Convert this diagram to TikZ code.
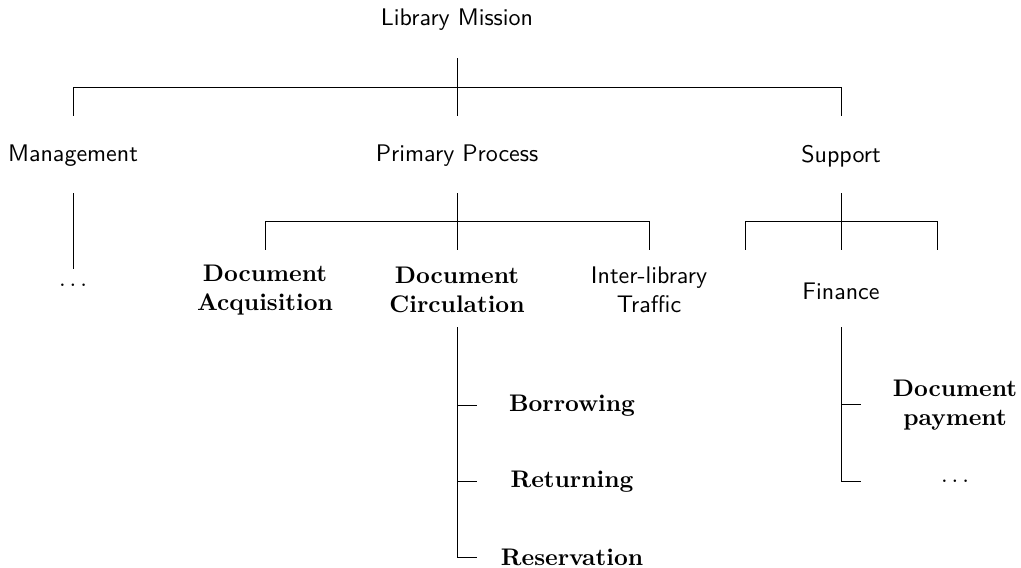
\documentclass[tikz,border=0pt]{standalone}
\begin{document}
\begin{tikzpicture}[x=0.4167pt,y=-0.4167pt,
  every node/.style={font=\sffamily, inner sep=0pt, align=center},
  bold/.style={font=\rmfamily\bfseries},
  link/.style={line width=0.4pt}]
\useasboundingbox (0,0) rectangle (1021,567);

% labels
\node (lm)  at (457,20)  {Library Mission};
\node (mg)  at (73,156)  {Management};
\node (pp)  at (457,156) {Primary Process};
\node (sp)  at (841,156) {Support};
\node (mgd) at (73,285)  {$\ldots$};
\node[bold] (da) at (265,290) {Document\\Acquisition};
\node[bold] (dc) at (457,290) {Document\\Circulation};
\node (it)  at (649,290) {Inter-library\\Traffic};
\node (fi)  at (841,291) {Finance};
\node[bold] (bo) at (572,406) {Borrowing};
\node[bold] (re) at (572,482) {Returning};
\node[bold] (rs) at (572,557) {Reservation};
\node[bold] (dp) at (955,405) {Document\\payment};
\node (fid) at (955,481) {$\ldots$};

% top level fork
\coordinate (lmA) at (457,58);
\coordinate (lmB) at (457,116);
\coordinate (lmL) at (73,87);
\coordinate (lmR) at (841,87);
\draw[link] (lmA) -- (lmB);
\draw[link] (mg |- lmL) -- (lmL) -- (lmR) -- (sp |- lmR);
\draw[link] (lmL) -- (mg |- lmB);
\draw[link] (lmR) -- (sp |- lmB);

% management
\coordinate (mgA) at (73,193);
\coordinate (mgB) at (73,269);
\draw[link] (mgA) -- (mgB);

% primary process fork
\coordinate (ppA) at (457,193);
\coordinate (ppB) at (457,250);
\coordinate (ppL) at (265,221);
\coordinate (ppR) at (649,221);
\draw[link] (ppA) -- (ppB);
\draw[link] (ppL) -- (ppR);
\draw[link] (ppL) -- (da |- ppB);
\draw[link] (ppR) -- (it |- ppB);

% support fork
\coordinate (spA) at (841,193);
\coordinate (spB) at (841,250);
\coordinate (spL) at (745,221);
\coordinate (spR) at (937,221);
\draw[link] (spA) -- (spB);
\draw[link] (spL) -- (spR);
\draw[link] (spL) -- (745,250);
\draw[link] (spR) -- (937,250);

% circulation list
\coordinate (dcA) at (457,327);
\coordinate (dcZ) at (457,557);
\draw[link] (dcA) -- (dcZ) -- ++(20,0);
\draw[link] (457,405) -- ++(20,0);
\draw[link] (457,481) -- ++(20,0);

% finance list
\coordinate (fiA) at (841,327);
\coordinate (fiZ) at (841,481);
\draw[link] (fiA) -- (fiZ) -- ++(20,0);
\draw[link] (841,404) -- ++(20,0);
\end{tikzpicture}
\end{document}
